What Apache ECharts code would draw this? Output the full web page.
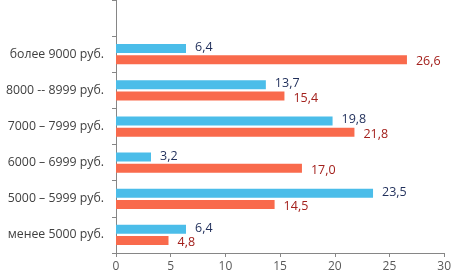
<!DOCTYPE html>
<html>
<head>
<meta charset="utf-8">
<script src="https://cdn.jsdelivr.net/npm/echarts@6/dist/echarts.min.js"></script>
<style>
html, body { margin: 0; padding: 0; background: #fff; }
#draw { width: 454px; height: 279px; }
</style>
</head>
<body>
<div id="draw"></div>
<script>
// категории сверху вниз (первая пустая — верхняя полоса без данных)
var categories = ['', 'более 9000 руб.', '8000 -- 8999 руб.', '7000 – 7999 руб.', '6000 – 6999 руб.', '5000 – 5999 руб.', 'менее 5000 руб.'];
var blueValues = ['-', 6.4, 13.7, 19.8, 3.2, 23.5, 6.4];
var redValues = ['-', 26.6, 15.4, 21.8, 17.0, 14.5, 4.8];
var xTicks = [0, 5, 10, 15, 20, 25, 30];

var font = 'Open Sans';
var fmt = function(p) {
	return p.value.toFixed(1).replace('.', ',');
};

var myChart = echarts.init(document.getElementById('draw'));
var option = {
	animation : false,
	grid : {
		left : 116,
		right : 7,
		top : 0,
		bottom : 26
	},
	xAxis : {
		type : 'value',
		min : xTicks[0],
		max : xTicks[xTicks.length - 1],
		interval : 5,
		splitLine : { show : false },
		axisLine : { show : true, lineStyle : { color : '#868686' } },
		axisTick : { show : true, length : 4, lineStyle : { color : '#868686' } },
		axisLabel : { color : '#595959', fontFamily : font, fontSize : 12, margin : 8 }
	},
	yAxis : {
		type : 'category',
		inverse : true,
		data : categories,
		axisLine : { show : true, lineStyle : { color : '#868686' } },
		axisTick : { show : true, length : 4, lineStyle : { color : '#868686' } },
		axisLabel : { color : '#404040', fontFamily : font, fontSize : 12.3, margin : 12 }
	},
	series : [ {
		name : 'blue',
		type : 'bar',
		data : blueValues,
		barWidth : 9,
		barGap : '25%',
		itemStyle : { color : '#4BBDE9' },
		label : {
			show : true,
			position : 'right',
			distance : 9,
			offset : [0, -1],
			color : '#1F2E5A',
			fontFamily : font,
			fontSize : 12.5,
			formatter : fmt
		}
	}, {
		name : 'red',
		type : 'bar',
		data : redValues,
		barWidth : 9,
		itemStyle : { color : '#F96A4C' },
		label : {
			show : true,
			position : 'right',
			distance : 9,
			offset : [0, 2],
			color : '#A3201C',
			fontFamily : font,
			fontSize : 12.5,
			formatter : fmt
		}
	} ]
};
myChart.setOption(option);
</script>
</body>
</html>
